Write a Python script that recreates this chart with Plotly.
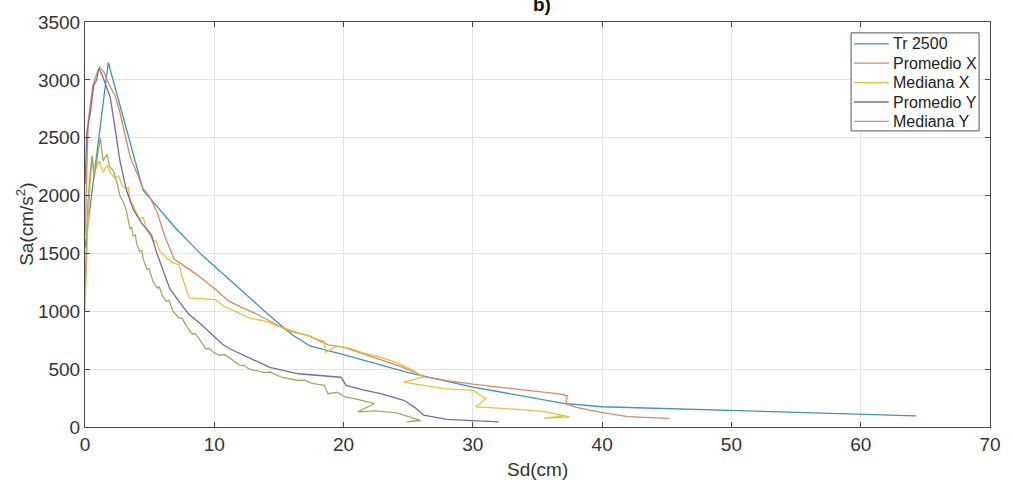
import plotly.graph_objects as go

# ---------------- data ----------------
sd_tr = [0, 1.8, 4.5, 7.0, 9.0, 10.0, 12.0, 14.0, 16.0, 17.4, 20.0, 25.0, 30.0, 33.0, 37.0, 40.0, 50.0, 60.0, 64.3]
sa_tr = [1550, 3150, 2045, 1720, 1490, 1390, 1190, 990, 800, 700, 625, 470, 345, 285, 205, 175, 145, 112, 97]

sd_px = [0, 0.25, 0.6, 0.9, 1.15, 1.5, 1.9, 2.3, 2.7, 3.1, 3.5, 4.0, 4.5, 5.0, 5.6, 6.2, 6.9, 7.7, 8.5,
         9.3, 10.2, 11.1, 12.0, 13.4, 14.5, 15.7, 17.3, 18.8, 20.0, 21.8, 23.0, 24.5, 26.4, 28.0, 30.0,
         32.0, 34.0, 35.6, 36.8, 37.3, 37.2, 38.0, 39.9, 42.0, 45.2]
sa_px = [1650, 2650, 2950, 3050, 3110, 3060, 2950, 2870, 2720, 2520, 2330, 2200, 2060, 1990, 1850, 1640,
         1450, 1390, 1330, 1260, 1180, 1090, 1040, 970, 900, 830, 790, 710, 690, 620, 580, 520, 430, 400,
         370, 345, 320, 300, 285, 270, 200, 170, 126, 90, 75]

sd_mx = [0, 0.2, 0.4, 0.55, 0.7, 0.9, 1.1, 1.4, 1.7, 1.95, 2.3, 2.6, 2.9, 3.2, 3.35, 3.5, 3.73, 4.2, 4.5,
         4.8, 5.3, 5.5, 5.8, 6.3, 6.8, 7.3, 7.5, 8.07, 9.0, 10.1, 10.8, 11.9, 12.8, 13.9, 15.0, 16.5,
         17.5, 18.5, 18.6, 19.5, 20.5, 21.5, 22.9, 24.0, 25.2, 26.2, 24.65, 26.0, 27.7, 30.0, 31.0,
         30.25, 32.8, 34.3, 35.6, 37.5, 35.5, 37.0]
sa_mx = [1000, 1700, 2100, 2343, 2200, 2250, 2300, 2200, 2260, 2200, 2150, 2170, 2080, 2057, 2070, 1950,
         1915, 1800, 1810, 1700, 1600, 1610, 1520, 1460, 1420, 1400, 1300, 1115, 1110, 1100, 1040, 987,
         940, 916, 870, 816, 780, 740, 645, 700, 680, 640, 602, 560, 500, 430, 388, 360, 331, 317, 245,
         174, 160, 146, 131, 88, 74, 95]

sd_py = [0, 0.15, 0.42, 0.67, 0.9, 1.06, 1.3, 1.6, 1.95, 2.3, 2.7, 3.2, 3.73, 4.4, 5.14, 5.5, 5.78, 6.54,
         7.3, 8.07, 8.84, 9.8, 10.6, 11.1, 12.66, 14.3, 16.5, 18.0, 19.8, 20.2, 21.5, 22.86, 24.65, 25.5,
         26.2, 27.96, 30.0, 32.0]
sa_py = [2100, 2550, 2720, 2950, 3000, 3100, 3050, 2950, 2850, 2600, 2300, 2050, 1880, 1760, 1660, 1520,
         1430, 1200, 1080, 970, 900, 800, 720, 680, 600, 515, 460, 445, 430, 360, 320, 288, 231, 170,
         103, 66, 55, 45]

sd_my = [0, 0.2, 0.4, 0.55, 0.7, 0.9, 1.19, 1.4, 1.7, 1.9, 2.2, 2.5, 2.7, 2.97, 3.2, 3.48, 3.6, 3.73,
         3.9, 4.0, 4.25, 4.4, 4.5, 4.8, 4.95, 5.26, 5.6, 5.75, 6.0, 6.29, 6.5, 6.8, 7.3, 7.5, 7.8, 8.3,
         8.5, 8.84, 9.35, 9.6, 9.86, 10.4, 10.8, 11.4, 12.0, 12.3, 12.66, 13.9, 14.3, 15.2, 16.5, 17.0,
         17.5, 18.5, 18.8, 19.5, 20.1, 21.0, 22.4, 21.1, 22.5, 24.1, 25.0, 25.9, 24.9, 26.0]
sa_my = [1200, 1900, 2200, 2343, 2150, 2300, 2500, 2300, 2357, 2250, 2214, 2100, 2000, 1943, 1870, 1715,
         1725, 1650, 1660, 1580, 1515, 1525, 1450, 1360, 1370, 1258, 1200, 1210, 1130, 1087, 1095, 1000,
         940, 945, 880, 802, 810, 760, 674, 680, 650, 620, 625, 580, 530, 535, 502, 470, 475, 430, 402,
         405, 380, 360, 288, 300, 260, 240, 203, 131, 140, 123, 90, 60, 45, 55]

series_names = ["Tr 2500", "Promedio X", "Mediana X", "Promedio Y", "Mediana Y"]
series_colors = ["#3f93b3", "#d68a62", "#e6c041", "#7a6a9c", "#9aae68"]

# ---------------- figure ----------------
fig = go.Figure()
for name, color, xs, ys in zip(series_names, series_colors,
                               [sd_tr, sd_px, sd_mx, sd_py, sd_my],
                               [sa_tr, sa_px, sa_mx, sa_py, sa_my]):
    fig.add_trace(go.Scatter(x=xs, y=ys, mode="lines", name=name,
                             line=dict(color=color, width=1.3), showlegend=False))

FONT = "Liberation Sans, Arial"
axis_common = dict(showline=True, linecolor="#4a4a4a", linewidth=1, mirror="ticks",
                   ticks="inside", ticklen=5, tickcolor="#4a4a4a",
                   showgrid=True, gridcolor="#e3e3e3", gridwidth=1, zeroline=False,
                   tickfont=dict(family=FONT, size=19, color="#333333"))

# plot area in pixels (layout helpers for the hand-drawn legend box)
L, R, T, B = 85, 997, 18, 427
def px2x(p):
    return (p - L) / (R - L)
def py2y(p):
    return (B - p) / (B - T)

shapes = [dict(type="rect", xref="paper", yref="paper",
               x0=px2x(857), x1=px2x(986), y0=py2y(128), y1=py2y(29),
               line=dict(color="#555555", width=1), fillcolor="white", layer="above")]
annotations = []
row_y = [40, 59.6, 79.2, 98.8, 118.4]
for name, color, yy in zip(series_names, series_colors, row_y):
    shapes.append(dict(type="line", xref="paper", yref="paper",
                       x0=px2x(860), x1=px2x(895), y0=py2y(yy), y1=py2y(yy),
                       line=dict(color=color, width=1.3), layer="above"))
    annotations.append(dict(text=name, x=px2x(897), y=py2y(yy), xref="paper", yref="paper",
                            xanchor="left", yanchor="middle", showarrow=False,
                            font=dict(family=FONT, size=16, color="#222222")))

annotations += [
    dict(text="Sd(cm)", x=0.5, y=-0.105, xref="paper", yref="paper",
         showarrow=False, yanchor="middle",
         font=dict(family=FONT, size=19, color="#333333")),
    dict(text="Sa(cm/s<sup>2</sup>)", x=-0.067, y=0.5, xref="paper", yref="paper",
         showarrow=False, textangle=-90, xanchor="center", yanchor="middle",
         font=dict(family=FONT, size=19, color="#333333")),
    dict(text="<b>b)</b>", x=0.505, y=1.042, xref="paper", yref="paper",
         showarrow=False, yanchor="middle",
         font=dict(family=FONT, size=19, color="#111111")),
]

fig.update_layout(
    width=1013, height=483,
    margin=dict(l=L, r=1013 - R, t=T, b=483 - B),
    paper_bgcolor="white", plot_bgcolor="white",
    showlegend=False,
    xaxis=dict(range=[0, 70], dtick=10, **axis_common),
    yaxis=dict(range=[0, 3500], dtick=500, **axis_common),
    shapes=shapes,
    annotations=annotations,
)

fig.write_html("out.html")
